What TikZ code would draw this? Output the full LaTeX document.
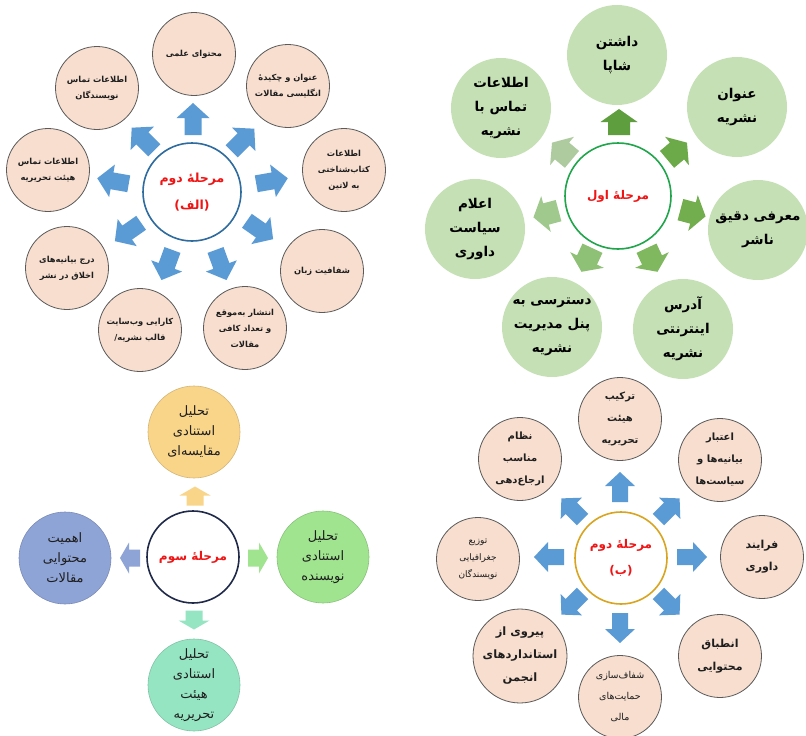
\documentclass[tikz,border=0pt]{standalone}
\usepackage{fontspec}
\TeXXeTstate=1
\newfontfamily\farsi[Script=Arabic]{DejaVu Sans}
\newfontfamily\plainfont{DejaVu Sans}
\newcommand\fa[1]{\beginR#1\endR}
\newcommand\opp{{\plainfont(}}
\newcommand\clp{{\plainfont)}}
% block arrow: x, y, angle, length, head width, stem width, head length, colour
\newcommand\barrow[8]{%
  \fill[#8,shift={(#1,#2)},rotate=#3]
    ({-#4/2},{-#6/2}) -- ({#4/2-#7},{-#6/2}) -- ({#4/2-#7},{-#5/2}) -- ({#4/2},0)
    -- ({#4/2-#7},{#5/2}) -- ({#4/2-#7},{#6/2}) -- ({-#4/2},{#6/2}) -- cycle;}
\definecolor{peach}{HTML}{F7DECF}
\definecolor{peachline}{HTML}{5A5A5A}
\definecolor{arblue}{HTML}{5B9BD5}
\definecolor{lgreen}{HTML}{C5E0B4}
\definecolor{redtxt}{HTML}{F01414}
\definecolor{txt}{HTML}{1E1E1E}
\definecolor{borderA}{HTML}{2E6B9E}
\definecolor{borderB}{HTML}{1FA64A}
\definecolor{borderC}{HTML}{1F2A4A}
\definecolor{borderD}{HTML}{D9A520}
\definecolor{gA1}{HTML}{5F9E3E}
\definecolor{gA2}{HTML}{6CA948}
\definecolor{gA3}{HTML}{73AE4E}
\definecolor{gA4}{HTML}{80B860}
\definecolor{gA5}{HTML}{8EC075}
\definecolor{gA6}{HTML}{A0C98E}
\definecolor{gA7}{HTML}{AECBA0}
\definecolor{corange}{HTML}{F9D58A}
\definecolor{cgreen}{HTML}{A0E48F}
\definecolor{cblue}{HTML}{8FA4D6}
\definecolor{cmint}{HTML}{96E5C2}
\begin{document}
\begin{tikzpicture}[x=1pt,y=-1pt,
  centerc/.style={circle,fill=white,line width=1.6pt,inner sep=0pt,align=center,text=redtxt,
    font=\farsi\bfseries\fontsize{12.5}{27}\selectfont},
  peachc/.style={circle,fill=peach,draw=peachline,line width=0.8pt,minimum size=83pt,inner sep=0pt,
    align=center,text=txt,font=\farsi\bfseries\fontsize{8.3}{16}\selectfont},
  greenc/.style={circle,fill=lgreen,minimum size=100pt,inner sep=0pt,align=center,text=black,
    font=\farsi\bfseries\fontsize{13.5}{24}\selectfont},
  thirdc/.style={circle,minimum size=92pt,inner sep=0pt,align=center,text=txt,line width=0.6pt,
    font=\farsi\fontsize{13}{20}\selectfont}
]
\useasboundingbox[fill=white] (0,0) rectangle (806,736);

% ---------------- Diagram A (top left) ----------------
\barrow{193}{119}{90}{32}{33}{17}{15}{arblue}
\barrow{243}{140}{45}{32}{33}{17}{15}{arblue}
\barrow{143}{139}{135}{32}{33}{17}{15}{arblue}
\barrow{272}{181}{10}{32}{33}{17}{15}{arblue}
\barrow{113}{181}{170}{32}{33}{17}{15}{arblue}
\barrow{128}{232}{215}{32}{33}{17}{15}{arblue}
\barrow{167}{265}{250}{32}{33}{17}{15}{arblue}
\barrow{221}{265}{290}{32}{33}{17}{15}{arblue}
\barrow{260}{230}{325}{32}{33}{17}{15}{arblue}

\node[centerc,draw=borderA,minimum size=98pt] (A0) at (192,192) {\fa{مرحلهٔ دوم}\\\opp\fa{الف}\clp};
\node[peachc] (A1) at (194,54) {\fa{محتوای علمی}};
\node[peachc] (A2) at (288,86) {\fa{عنوان و چکیدهٔ}\\\fa{انگلیسی مقالات}};
\node[peachc] (A3) at (97,88) {\fa{اطلاعات تماس}\\\fa{نویسندگان}};
\node[peachc] (A4) at (344,170) {\fa{اطلاعات}\\\fa{کتاب‌شناختی}\\\fa{به لاتین}};
\node[peachc] (A5) at (48,170) {\fa{اطلاعات تماس}\\\fa{هیئت تحریریه}};
\node[peachc] (A6) at (67,268) {\fa{درج بیانیه‌های}\\\fa{اخلاق در نشر}};
\node[peachc] (A7) at (140,330) {\fa{کارایی وب‌سایت}\\{\plainfont\bfseries/}\fa{قالب نشریه}};
\node[peachc] (A8) at (245,328) {\fa{انتشار به‌موقع}\\\fa{و تعداد کافی}\\\fa{مقالات}};
\node[peachc] (A9) at (322,271) {\fa{شفافیت زبان}};

% ---------------- Diagram B (top right) ----------------
\barrow{619}{122}{90}{26}{37}{22}{13}{gA1}
\barrow{677}{151}{40}{26}{37}{22}{13}{gA2}
\barrow{693}{213}{345}{26}{37}{22}{13}{gA3}
\barrow{652}{260}{295}{26}{37}{22}{13}{gA4}
\barrow{587}{260}{245}{26}{37}{22}{13}{gA5}
\barrow{546}{214}{195}{26}{37}{22}{13}{gA6}
\barrow{562}{151}{140}{26}{37}{22}{13}{gA7}

\node[centerc,draw=borderB,minimum size=106pt,font=\farsi\bfseries\fontsize{12}{24}\selectfont] (B0) at (618,196) {\fa{مرحلهٔ اول}};
\node[greenc] (B1) at (617,55) {\fa{داشتن}\\\fa{شاپا}};
\node[greenc] (B2) at (737,107) {\fa{عنوان}\\\fa{نشریه}};
\node[greenc] (B3) at (501,108) {\fa{اطلاعات}\\\fa{تماس با}\\\fa{نشریه}};
\node[greenc] (B4) at (758,230) {\fa{معرفی دقیق}\\\fa{ناشر}};
\node[greenc] (B5) at (475,229) {\fa{اعلام}\\\fa{سیاست}\\\fa{داوری}};
\node[greenc] (B6) at (552,327) {\fa{دسترسی به}\\\fa{پنل مدیریت}\\\fa{نشریه}};
\node[greenc] (B7) at (683,329) {\fa{آدرس}\\\fa{اینترنتی}\\\fa{نشریه}};

% ---------------- Diagram C (bottom left) ----------------
\barrow{195}{496}{90}{19}{31}{17}{9}{corange}
\barrow{258}{558}{0}{20}{31}{17}{9}{cgreen}
\barrow{130}{558}{180}{20}{31}{17}{9}{cblue}
\barrow{194}{620}{270}{19}{31}{17}{9}{cmint}

\node[centerc,draw=borderC,minimum size=92pt,font=\farsi\bfseries\fontsize{12}{24}\selectfont] (C0) at (193,557) {\fa{مرحلهٔ سوم}};
\node[thirdc,fill=corange,draw=corange!85!black] (C1) at (194,432) {\fa{تحلیل}\\\fa{استنادی}\\\fa{مقایسه‌ای}};
\node[thirdc,fill=cgreen,draw=cgreen!85!black] (C2) at (323,557) {\fa{تحلیل}\\\fa{استنادی}\\\fa{نویسنده}};
\node[thirdc,fill=cblue,draw=cblue!85!black] (C3) at (65,558) {\fa{اهمیت}\\\fa{محتوایی}\\\fa{مقالات}};
\node[thirdc,fill=cmint,draw=cmint!85!black] (C4) at (194,685) {\fa{تحلیل}\\\fa{استنادی}\\\fa{هیئت}\\\fa{تحریریه}};

% ---------------- Diagram D (bottom right) ----------------
\barrow{620}{487}{90}{30}{30}{16}{14}{arblue}
\barrow{669}{509}{45}{30}{30}{16}{14}{arblue}
\barrow{692}{557}{0}{30}{30}{16}{14}{arblue}
\barrow{669}{604}{315}{30}{30}{16}{14}{arblue}
\barrow{620}{628}{270}{30}{30}{16}{14}{arblue}
\barrow{572}{604}{225}{30}{30}{16}{14}{arblue}
\barrow{549}{557}{180}{30}{30}{16}{14}{arblue}
\barrow{572}{509}{135}{30}{30}{16}{14}{arblue}

\node[centerc,draw=borderD,minimum size=92pt,font=\farsi\bfseries\fontsize{12}{26}\selectfont] (D0) at (621,558) {\fa{مرحلهٔ دوم}\\\opp\fa{ب}\clp};
\node[peachc,font=\farsi\bfseries\fontsize{10}{22}\selectfont] (D1) at (620,419) {\fa{ترکیب}\\\fa{هیئت}\\\fa{تحریریه}};
\node[peachc,font=\farsi\bfseries\fontsize{10}{22}\selectfont] (D2) at (720,460) {\fa{اعتبار}\\\fa{بیانیه‌ها و}\\\fa{سیاست‌ها}};
\node[peachc,font=\farsi\bfseries\fontsize{10}{22}\selectfont] (D3) at (520,459) {\fa{نظام}\\\fa{مناسب}\\\fa{ارجاع‌دهی}};
\node[peachc,font=\farsi\bfseries\fontsize{11}{22}\selectfont] (D4) at (762,557) {\fa{فرایند}\\\fa{داوری}};
\node[peachc,font=\farsi\fontsize{9}{17}\selectfont] (D5) at (478,559) {\fa{توزیع}\\\fa{جغرافیایی}\\\fa{نویسندگان}};
\node[peachc,font=\farsi\bfseries\fontsize{11.5}{23}\selectfont] (D6) at (520,656) {\fa{پیروی از}\\\fa{استانداردهای}\\\fa{انجمن}};
\node[peachc,font=\farsi\bfseries\fontsize{11}{23}\selectfont] (D7) at (720,656) {\fa{انطباق}\\\fa{محتوایی}};
\node[peachc,font=\farsi\fontsize{9.5}{21}\selectfont] (D8) at (620,697) {\fa{شفاف‌سازی}\\\fa{حمایت‌های}\\\fa{مالی}};
\end{tikzpicture}
\end{document}
